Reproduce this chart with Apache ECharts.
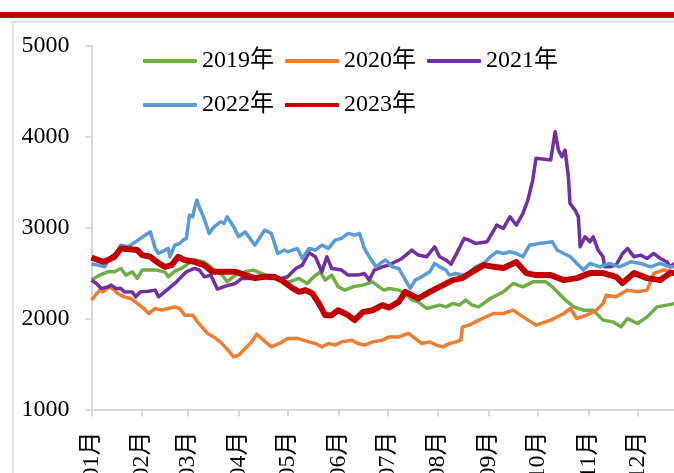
<!DOCTYPE html>
<html>
<head>
<meta charset="utf-8">
<title>2019-2023年 走势</title>
<script src="https://cdn.jsdelivr.net/npm/echarts@6.0.0/dist/echarts.min.js"></script>
<style>
  html, body { margin: 0; padding: 0; background: #fff; }
  #main { width: 674px; height: 473px; }
</style>
</head>
<body>
<div id="main"></div>
<script>
// x = 当年第几天 (1月1日 = 0)
const monthStarts = [0, 31, 59, 90, 120, 151, 181, 212, 243, 273, 304, 334];
const monthLabels = ["01月", "02月", "03月", "04月", "05月", "06月", "07月", "08月", "09月", "10月", "11月", "12月"];
const yTicks = [1000, 2000, 3000, 4000, 5000];
const seriesNames = ["2019年", "2020年", "2021年", "2022年", "2023年"];

// 2019年
const days2019 = [0, 5, 10, 14, 18, 21, 25, 28, 31, 40, 45, 47, 51, 55, 58, 62, 69, 74, 80, 83, 88, 94, 99, 104, 109, 115, 121, 127, 132, 136, 140, 143, 147, 151, 155, 160, 166, 172, 176, 179, 182, 188, 192, 196, 200, 205, 209, 213, 217, 221, 225, 229, 233, 237, 244, 252, 258, 264, 270, 278, 282, 289, 295, 301, 307, 313, 319, 324, 328, 334, 340, 346, 352, 357, 362];
const vals2019 = [2422, 2477, 2513, 2513, 2550, 2477, 2513, 2440, 2532, 2532, 2510, 2458, 2520, 2550, 2587, 2649, 2620, 2550, 2477, 2403, 2477, 2513, 2532, 2495, 2458, 2422, 2403, 2440, 2385, 2458, 2513, 2422, 2477, 2348, 2312, 2348, 2367, 2403, 2348, 2312, 2330, 2312, 2275, 2202, 2183, 2110, 2128, 2147, 2128, 2165, 2147, 2202, 2147, 2128, 2220, 2293, 2385, 2348, 2403, 2403, 2348, 2220, 2128, 2092, 2092, 1982, 1963, 1908, 2000, 1945, 2018, 2128, 2147, 2165, 2165];

// 2020年
const days2020 = [0, 5, 7, 11, 14, 16, 20, 24, 28, 32, 35, 39, 43, 47, 51, 54, 57, 62, 65, 71, 75, 79, 83, 87, 90, 94, 98, 101, 104, 110, 115, 120, 126, 133, 137, 141, 145, 149, 153, 159, 163, 167, 172, 178, 182, 188, 194, 198, 202, 207, 211, 215, 219, 223, 226, 227, 231, 237, 246, 252, 258, 264, 272, 281, 289, 293, 297, 303, 309, 313, 315, 321, 328, 334, 340, 344, 350, 357, 362];
const vals2020 = [2202, 2312, 2293, 2348, 2312, 2275, 2238, 2220, 2165, 2110, 2055, 2110, 2092, 2110, 2128, 2110, 2037, 2037, 1960, 1836, 1795, 1740, 1663, 1578, 1597, 1671, 1743, 1828, 1781, 1688, 1726, 1781, 1781, 1743, 1726, 1688, 1726, 1707, 1743, 1762, 1726, 1707, 1743, 1762, 1798, 1798, 1836, 1781, 1726, 1743, 1707, 1688, 1726, 1743, 1762, 1908, 1927, 1982, 2055, 2055, 2092, 2018, 1927, 1982, 2055, 2110, 2000, 2037, 2092, 2165, 2257, 2238, 2312, 2293, 2312, 2495, 2532, 2513, 2513];

// 2021年
const days2021 = [0, 3, 6, 10, 12, 15, 18, 20, 25, 27, 30, 35, 39, 41, 46, 51, 55, 58, 63, 66, 69, 73, 77, 82, 88, 92, 98, 104, 110, 116, 120, 125, 129, 133, 137, 141, 144, 147, 153, 157, 163, 167, 170, 173, 178, 182, 186, 190, 196, 200, 205, 210, 213, 217, 220, 225, 228, 231, 235, 242, 248, 252, 256, 260, 264, 267, 270, 272, 281, 282.6, 283.7, 285.7, 287.8, 289.8, 291.8, 292.8, 295.9, 297.9, 299, 302, 305, 307, 310, 313, 314, 317, 321, 325, 328, 332, 336, 340, 344, 348, 352, 354, 357, 362];
const vals2021 = [2422, 2385, 2330, 2348, 2367, 2330, 2330, 2293, 2290, 2238, 2293, 2300, 2312, 2238, 2312, 2385, 2458, 2513, 2550, 2532, 2458, 2477, 2323, 2356, 2385, 2440, 2440, 2458, 2440, 2440, 2458, 2550, 2587, 2724, 2678, 2513, 2678, 2550, 2532, 2477, 2477, 2495, 2422, 2532, 2568, 2587, 2623, 2660, 2752, 2697, 2678, 2788, 2678, 2642, 2598, 2770, 2880, 2861, 2825, 2843, 3026, 2990, 3118, 3026, 3155, 3301, 3521, 3760, 3741, 3925, 4052, 3851, 3777, 3851, 3557, 3265, 3191, 3118, 2788, 2898, 2843, 2898, 2752, 2678, 2568, 2568, 2587, 2715, 2770, 2678, 2697, 2660, 2715, 2660, 2623, 2568, 2605, 2600];

// 2022年
const days2022 = [0, 4, 8, 10, 13, 16, 18, 22, 24, 30, 36, 39, 41, 43, 47, 48, 51, 54, 56, 58, 60, 62, 63, 64.5, 66, 68.5, 72, 75, 79, 81, 83, 87, 90, 94, 100, 106, 110, 114, 118, 120, 126, 129, 133, 137, 141, 145, 149, 153, 157, 161, 164, 167, 170, 174, 178, 180, 184, 188, 191, 195, 198, 202, 207, 210, 213, 217, 219, 223, 227, 231, 235, 240, 244, 248, 252, 256, 260, 264, 268, 274, 282, 285, 289, 293, 297, 301, 305, 311, 317, 323, 330, 336, 342, 348, 354, 362];
const vals2022 = [2598, 2587, 2568, 2623, 2697, 2715, 2806, 2788, 2806, 2880, 2953, 2770, 2715, 2733, 2770, 2678, 2806, 2825, 2861, 2880, 3136, 3118, 3210, 3301, 3219, 3118, 2935, 3008, 3063, 3045, 3118, 3008, 2898, 2953, 2806, 2972, 2935, 2715, 2752, 2733, 2770, 2660, 2770, 2752, 2806, 2770, 2861, 2880, 2935, 2916, 2935, 2770, 2678, 2568, 2623, 2642, 2568, 2550, 2458, 2330, 2422, 2458, 2513, 2605, 2568, 2532, 2477, 2495, 2477, 2495, 2568, 2605, 2678, 2733, 2715, 2733, 2715, 2678, 2806, 2825, 2843, 2752, 2715, 2678, 2605, 2532, 2605, 2568, 2605, 2568, 2623, 2605, 2568, 2605, 2568, 2570];

// 2023年
const days2023 = [0, 7, 10, 14, 18, 22, 28, 31, 36, 41, 45, 49, 53, 57, 63, 69, 74, 82, 88, 94, 100, 106, 112, 116, 123, 127, 131, 135, 139, 143, 147, 151, 157, 161, 166, 172, 178, 182, 188, 192, 196, 200, 207, 213, 221, 227, 233, 240, 246, 252, 260, 266, 272, 281, 289, 297, 305, 313, 321, 325, 332, 340, 348, 354, 362];
const vals2023 = [2670, 2623, 2642, 2678, 2770, 2763, 2752, 2697, 2678, 2609, 2568, 2587, 2678, 2642, 2623, 2587, 2513, 2513, 2513, 2477, 2444, 2458, 2458, 2422, 2334, 2293, 2312, 2278, 2169, 2037, 2037, 2091, 2037, 1982, 2070, 2091, 2147, 2120, 2183, 2293, 2257, 2220, 2293, 2348, 2422, 2444, 2513, 2587, 2568, 2554, 2620, 2499, 2477, 2477, 2422, 2444, 2499, 2499, 2458, 2389, 2499, 2444, 2422, 2499, 2499];

const fontFamily = '"Liberation Serif", "Times New Roman", "Noto Sans CJK SC", serif';
const colors = ["#70AD47", "#ED7D31", "#7030A0", "#5B9BD5", "#C00000"];
const widths = [3.5, 3.5, 3.5, 3.5, 6];

function pairs(days, vals) {
  return days.map((d, i) => [d, vals[i]]);
}

const allDays = [days2019, days2020, days2021, days2022, days2023];
const allVals = [vals2019, vals2020, vals2021, vals2022, vals2023];

let myChart = echarts.init(document.getElementById("main"), null, { renderer: "canvas" });

const legendText = { fontSize: 24, color: "#000", fontFamily: fontFamily };

let option = {
  animation: false,
  backgroundColor: "#fff",
  color: colors,
  // 顶部红条和左边框
  graphic: [
    { type: "rect", shape: { x: 0, y: 12, width: 674, height: 6 }, style: { fill: "#C00000" } },
    { type: "line", shape: { x1: 10, y1: 22, x2: 674, y2: 22 }, style: { stroke: "#d9d9d9", lineWidth: 1.5 } },
    { type: "line", shape: { x1: 13, y1: 22, x2: 13, y2: 473 }, style: { stroke: "#d9d9d9", lineWidth: 1.5 } }
  ],
  legend: [
    {
      data: seriesNames.slice(0, 3),
      left: 143,
      top: 49,
      padding: 0,
      icon: "roundRect",
      itemWidth: 54,
      itemHeight: 4,
      itemGap: 11,
      textStyle: legendText
    },
    {
      data: seriesNames.slice(3),
      left: 143,
      top: 93,
      padding: 0,
      icon: "roundRect",
      itemWidth: 54,
      itemHeight: 4,
      itemGap: 11,
      textStyle: legendText
    }
  ],
  grid: {
    left: 91.5,
    right: -14,
    top: 45.5,
    bottom: 63.5,
    containLabel: false,
    outerBoundsMode: "none"
  },
  xAxis: {
    type: "value",
    min: 0,
    max: 365,
    axisLine: { onZero: false, lineStyle: { color: "#d9d9d9", width: 2 } },
    axisTick: { show: true, length: 7, customValues: monthStarts, lineStyle: { color: "#d9d9d9", width: 2 } },
    axisLabel: {
      customValues: monthStarts,
      rotate: 90,
      margin: 22,
      fontSize: 24,
      color: "#000",
      fontFamily: fontFamily,
      formatter: v => monthLabels[monthStarts.indexOf(v)]
    },
    splitLine: { show: false }
  },
  yAxis: {
    type: "value",
    min: yTicks[0],
    max: yTicks[yTicks.length - 1],
    interval: 1000,
    axisLine: { show: true, lineStyle: { color: "#d9d9d9", width: 2 } },
    axisTick: { show: true, length: 6, lineStyle: { color: "#d9d9d9", width: 2 } },
    axisLabel: {
      margin: 22,
      fontSize: 24,
      color: "#000",
      fontFamily: fontFamily,
      formatter: v => String(v)
    },
    splitLine: { show: false }
  },
  series: seriesNames.map((name, i) => ({
    name: name,
    type: "line",
    symbol: "none",
    data: pairs(allDays[i], allVals[i]),
    lineStyle: { width: widths[i], color: colors[i], join: "round" },
    itemStyle: { color: colors[i] }
  }))
};

myChart.setOption(option);
</script>
</body>
</html>
